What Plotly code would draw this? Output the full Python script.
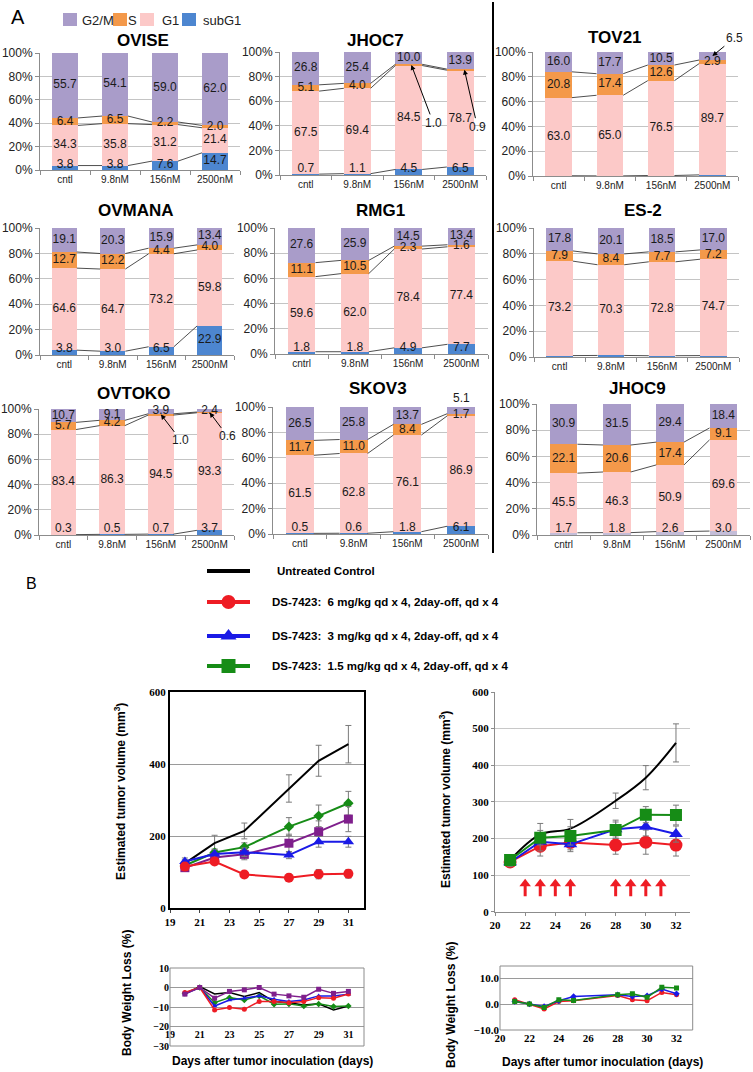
import plotly.graph_objects as go

W, H = 753, 1072
def fx(p): return p / W
def fy(p): return 1 - p / H

# ---------------- Panel A data ----------------
cats_cntl = ["cntl", "9.8nM", "156nM", "2500nM"]
cats_cntrl = ["cntrl", "9.8nM", "156nM", "2500nM"]
phase_names = ["subG1", "G1", "S", "G2/M"]

ovise_subg1 = [3.8, 3.8, 7.6, 14.7]
ovise_g1 = [34.3, 35.8, 31.2, 21.4]
ovise_s = [6.4, 6.5, 2.2, 2.0]
ovise_g2m = [55.7, 54.1, 59.0, 62.0]

jhoc7_subg1 = [0.7, 1.1, 4.5, 6.5]
jhoc7_g1 = [67.5, 69.4, 84.5, 78.7]
jhoc7_s = [5.1, 4.0, 1.0, 0.9]
jhoc7_g2m = [26.8, 25.4, 10.0, 13.9]

tov21_subg1 = [0.2, 0.1, 0.4, 0.9]
tov21_g1 = [63.0, 65.0, 76.5, 89.7]
tov21_s = [20.8, 17.4, 12.6, 2.9]
tov21_g2m = [16.0, 17.7, 10.5, 6.5]

ovmana_subg1 = [3.8, 3.0, 6.5, 22.9]
ovmana_g1 = [64.6, 64.7, 73.2, 59.8]
ovmana_s = [12.7, 12.2, 4.4, 4.0]
ovmana_g2m = [19.1, 20.3, 15.9, 13.4]

rmg1_subg1 = [1.8, 1.8, 4.9, 7.7]
rmg1_g1 = [59.6, 62.0, 78.4, 77.4]
rmg1_s = [11.1, 10.5, 2.3, 1.6]
rmg1_g2m = [27.6, 25.9, 14.5, 13.4]

es2_subg1 = [1.1, 1.2, 1.0, 1.1]
es2_g1 = [73.2, 70.3, 72.8, 74.7]
es2_s = [7.9, 8.4, 7.7, 7.2]
es2_g2m = [17.8, 20.1, 18.5, 17.0]

ovtoko_subg1 = [0.3, 0.5, 0.7, 3.7]
ovtoko_g1 = [83.4, 86.3, 94.5, 93.3]
ovtoko_s = [5.7, 4.2, 1.0, 0.6]
ovtoko_g2m = [10.7, 9.1, 3.9, 2.4]

skov3_subg1 = [0.5, 0.6, 1.8, 6.1]
skov3_g1 = [61.5, 62.8, 76.1, 86.9]
skov3_s = [11.7, 11.0, 8.4, 1.7]
skov3_g2m = [26.5, 25.8, 13.7, 5.1]

jhoc9_subg1 = [1.7, 1.8, 2.6, 3.0]
jhoc9_g1 = [45.5, 46.3, 50.9, 69.6]
jhoc9_s = [22.1, 20.6, 17.4, 9.1]
jhoc9_g2m = [30.9, 31.5, 29.4, 18.4]

# ---------------- Panel B data ----------------
left_days = [20, 22, 24, 27, 29, 31]
left_ctrl = [124, 180, 214, 332, 409, 455]
left_ctrl_err = [10, 22, 22, 38, 43, 52]
left_15 = [118, 154, 169, 226, 256, 291]
left_15_err = [8, 10, 12, 25, 30, 33]
left_purple = [112, 140, 149, 180, 212, 247]
left_purple_err = [8, 12, 15, 25, 30, 35]
left_3 = [129, 150, 155, 147, 184, 184]
left_3_err = [10, 12, 12, 10, 15, 15]
left_6 = [115, 129, 93, 84, 94, 95]
left_6_err = [8, 8, 5, 10, 13, 12]

left_bw_days = [20, 21, 22, 23, 24, 25, 26, 27, 28, 29, 30, 31]
lbw_ctrl = [-3.3, 0.5, -3.3, -2.6, -4.6, -2.6, -7.2, -7.8, -9.0, -8.4, -11.5, -9.5]
lbw_purple = [-3.4, 0.0, -5.5, -2.0, -1.2, 0.0, -3.4, -4.3, -5.0, -0.9, -3.0, -2.0]
lbw_3 = [-3.3, 0.0, -9.5, -6.4, -5.5, -4.3, -6.0, -7.2, -6.4, -4.3, -4.3, -3.4]
lbw_15 = [-2.9, 0.0, -7.8, -5.2, -6.4, -4.3, -8.6, -8.4, -9.5, -8.4, -9.8, -9.5]
lbw_6 = [-2.6, 0.0, -11.5, -10.2, -11.2, -7.2, -7.2, -7.8, -7.2, -5.2, -5.5, -3.3]

right_days = [21, 23, 25, 28, 30, 32]
right_ctrl = [141, 211, 227, 303, 366, 461]
right_ctrl_err = [15, 30, 25, 21, 33, 52]
right_15 = [141, 202, 207, 223, 265, 264]
right_15_err = [12, 20, 25, 22, 22, 27]
right_3 = [135, 191, 184, 225, 232, 212]
right_3_err = [12, 25, 20, 25, 25, 22]
right_6 = [136, 179, 189, 182, 190, 182]
right_6_err = [12, 27, 20, 25, 33, 30]
dose_days = [22, 23, 24, 25, 28, 29, 30, 31]

right_bw_days = [21, 22, 23, 24, 25, 28, 29, 30, 31, 32]
rbw_6 = [1.7, 0.0, -1.9, 1.0, 1.3, 3.3, 1.7, 1.3, 4.5, 3.6]
rbw_3 = [1.0, 0.0, -0.9, 1.3, 2.9, 3.6, 2.9, 3.2, 5.8, 4.0]
rbw_15 = [1.0, 0.0, -1.3, 1.7, 1.4, 3.6, 4.0, 2.6, 6.5, 6.2]

legend_labels = ["Untreated Control",
                 "DS-7423:\u00a0 6 mg/kg qd x 4, 2day-off, qd x 4",
                 "DS-7423:\u00a0 3 mg/kg qd x 4, 2day-off, qd x 4",
                 "DS-7423:\u00a0 1.5 mg/kg qd x 4, 2day-off, qd x 4"]

# ---------------- styles ----------------
C_G2M, C_S, C_G1, C_SUB = "#a99cc9", "#f4994a", "#fcc9c8", "#4d86d0"
SANS = "Liberation Sans"
SERIF = "Liberation Serif"
RED, BLUE, GREEN, PURPLE, BLACK = "#ee1c24", "#1a1ae6", "#168c16", "#7f1f8c", "#000000"
LABEL_FONT = dict(family=SANS, size=12, color="#1a1a1a")

charts = [
    dict(name="OVISE", cats=cats_cntl, d=(ovise_subg1, ovise_g1, ovise_s, ovise_g2m),
         xd=(40, 240), yd=(53, 170), t=(143, 40)),
    dict(name="JHOC7", cats=cats_cntl, d=(jhoc7_subg1, jhoc7_g1, jhoc7_s, jhoc7_g2m),
         xd=(280, 486), yd=(52, 175), t=(375, 40),
         hide={(2, 2), (2, 3)}, arrows=[(2, 2, 0.05, 22, 58), (2, 3, 0.08, 13, 57)]),
    dict(name="TOV21", cats=cats_cntl, d=(tov21_subg1, tov21_g1, tov21_s, tov21_g2m),
         xd=(533, 738), yd=(52, 176), t=(615, 38),
         hide={(0, 0), (0, 1), (0, 2), (0, 3), (3, 3)}, arrows=[(3, 3, 0.0, 22, -18)]),
    dict(name="OVMANA", cats=cats_cntl, d=(ovmana_subg1, ovmana_g1, ovmana_s, ovmana_g2m),
         xd=(40, 234), yd=(228, 355), t=(136, 210)),
    dict(name="RMG1", cats=cats_cntrl, d=(rmg1_subg1, rmg1_g1, rmg1_s, rmg1_g2m),
         xd=(275, 488), yd=(228, 354), t=(380, 210)),
    dict(name="ES-2", cats=cats_cntl, d=(es2_subg1, es2_g1, es2_s, es2_g2m),
         xd=(534, 739), yd=(228, 357), t=(643, 210),
         hide={(0, 0), (0, 1), (0, 2), (0, 3)}),
    dict(name="OVTOKO", cats=cats_cntl, d=(ovtoko_subg1, ovtoko_g1, ovtoko_s, ovtoko_g2m),
         xd=(39, 234), yd=(409, 535), t=(133, 393),
         hide={(2, 2), (2, 3)}, arrows=[(2, 2, 0.0, 20, 26), (2, 3, 0.0, 18, 24)]),
    dict(name="SKOV3", cats=cats_cntl, d=(skov3_subg1, skov3_g1, skov3_s, skov3_g2m),
         xd=(273, 488), yd=(407, 534), t=(378, 388), above={(3, 3)}),
    dict(name="JHOC9", cats=cats_cntrl, d=(jhoc9_subg1, jhoc9_g1, jhoc9_s, jhoc9_g2m),
         xd=(537, 750), yd=(404, 535), t=(637, 388), subcolor="#c4bdd8"),
]

fig = go.Figure()
layout = {}
annotations = []
shapes = []

def note(x, y, text, font, xanchor="center", yanchor="middle", **kw):
    annotations.append(dict(x=fx(x), y=fy(y), xref="paper", yref="paper", text=text, showarrow=False,
                            xanchor=xanchor, yanchor=yanchor, font=font, **kw))

def ax_id(i, k):
    return k if i == 1 else f"{k}{i}"

def lay_id(i, k):
    return f"{k}axis" if i == 1 else f"{k}axis{i}"

BW = 0.52
for ci, ch in enumerate(charts, start=1):
    xa, ya = ax_id(ci, "x"), ax_id(ci, "y")
    xs = list(range(len(ch["cats"])))
    cols = [ch.get("subcolor", C_SUB), C_G1, C_S, C_G2M]
    cum_prev = [0.0] * len(xs)
    tops = []
    for pi, vals in enumerate(ch["d"]):
        fig.add_trace(go.Bar(x=xs, y=vals, width=BW, marker=dict(color=cols[pi], line=dict(width=0)),
                             xaxis=xa, yaxis=ya, showlegend=False, hoverinfo="skip"))
        top = [a + b for a, b in zip(cum_prev, vals)]
        lx, ly, lt = [], [], []
        for i in xs:
            if (pi, i) in ch.get("hide", set()):
                continue
            if (pi, i) in ch.get("above", set()):
                annotations.append(dict(x=i, y=top[i], xref=xa, yref=ya, text=f"{vals[i]:.1f}",
                                        showarrow=False, xanchor="center", yanchor="bottom",
                                        font=LABEL_FONT))
                continue
            mid = cum_prev[i] + vals[i] / 2
            if pi == 0:
                mid = max(mid, 4.6)
            lx.append(i); ly.append(mid); lt.append(f"{vals[i]:.1f}")
        if lx:
            fig.add_trace(go.Scatter(x=lx, y=ly, text=lt, mode="text", xaxis=xa, yaxis=ya,
                                     textfont=LABEL_FONT, showlegend=False, hoverinfo="skip",
                                     cliponaxis=False))
        for (ppi, idx, dx, axp, ayp) in ch.get("arrows", []):
            if ppi == pi:
                annotations.append(dict(x=idx + dx, y=cum_prev[idx] + vals[idx] / 2, xref=xa, yref=ya,
                                        text=f"{vals[idx]:.1f}", showarrow=True, ax=axp, ay=ayp,
                                        arrowhead=2, arrowsize=1, arrowwidth=1, arrowcolor="#000",
                                        font=LABEL_FONT))
        if pi < 3:
            tops.append(top)
        cum_prev = top
    cx, cy = [], []
    for top in tops:
        for i in xs[:-1]:
            cx += [i + BW / 2, i + 1 - BW / 2, None]
            cy += [top[i], top[i + 1], None]
    fig.add_trace(go.Scatter(x=cx, y=cy, mode="lines", line=dict(color="#222", width=0.8),
                             xaxis=xa, yaxis=ya, showlegend=False, hoverinfo="skip"))
    layout[lay_id(ci, "x")] = dict(
        domain=[fx(ch["xd"][0]), fx(ch["xd"][1])], anchor=ya, range=[-0.5, len(xs) - 0.5],
        automargin=False,
        tickmode="array", tickvals=xs, ticktext=ch["cats"], ticks="", showgrid=False, zeroline=False,
        showline=True, linecolor="#8c8c8c", linewidth=1,
        tickfont=dict(family=SANS, size=10, color="#222"),
        minor=dict(tickmode="array", tickvals=[i - 0.5 for i in range(len(xs) + 1)],
                   ticks="outside", ticklen=4, tickcolor="#8c8c8c", showgrid=False))
    layout[lay_id(ci, "y")] = dict(
        domain=[fy(ch["yd"][1]), fy(ch["yd"][0])], anchor=xa, range=[0, 100], automargin=False,
        tickmode="array", tickvals=[0, 20, 40, 60, 80, 100],
        ticktext=["0%", "20%", "40%", "60%", "80%", "100%"],
        ticks="outside", ticklen=4, tickcolor="#8c8c8c", showline=True, linecolor="#8c8c8c",
        showgrid=True, gridcolor="#c4c4c4", gridwidth=1, zeroline=False,
        tickfont=dict(family=SANS, size=12, color="#222"))
    note(ch["t"][0], ch["t"][1], f"<b>{ch['name']}</b>", dict(family=SANS, size=17, color="#000"))

# Panel A legend
leg_items = [("G2/M", C_G2M, 63, 80), ("S", C_S, 113, 126), ("G1", C_G1, 140, 160), ("subG1", C_SUB, 182, 201)]
for lab, col, sx, tx in leg_items:
    shapes.append(dict(type="rect", xref="paper", yref="paper", x0=fx(sx), x1=fx(sx + 14),
                       y0=fy(26), y1=fy(13), fillcolor=col, line=dict(width=0)))
    note(tx, 20, lab, dict(family=SANS, size=13, color="#222"), xanchor="left")
note(18, 17, "A", dict(family=SANS, size=20, color="#000"))
note(32, 583, "B", dict(family=SANS, size=16, color="#000"))
shapes.append(dict(type="line", xref="paper", yref="paper", x0=fx(493), x1=fx(493), y0=fy(2), y1=fy(553),
                   line=dict(color="#000", width=2)))

# ---------------- Panel B ----------------
tickfont_b = dict(family=SERIF, size=11, color="#000", weight="bold")
title_font = dict(family=SANS, size=12, color="#000", weight="bold")
errc = "#7a7a7a"

def err(a):
    return dict(type="data", array=a, visible=True, color=errc, thickness=1, width=3)

# Left tumor chart (axis 10)
LX, LY = "x10", "y10"
left_series = [
    (left_ctrl, left_ctrl_err, BLACK, None, 0),
    (left_15, left_15_err, GREEN, "diamond", 8),
    (left_purple, left_purple_err, PURPLE, "square", 9),
    (left_3, left_3_err, BLUE, "triangle-up", 10),
    (left_6, left_6_err, RED, "circle", 10),
]
for ys, es, col, sym, sz in left_series:
    fig.add_trace(go.Scatter(x=left_days, y=ys, error_y=err(es), xaxis=LX, yaxis=LY,
                             mode="lines+markers" if sym else "lines",
                             line=dict(color=col, width=2),
                             marker=dict(symbol=sym or "circle", size=sz, color=col),
                             showlegend=False, hoverinfo="skip"))
layout["xaxis10"] = dict(domain=[fx(170), fx(364)], anchor=LY, range=[19, 32.05], tickmode="array",
                         tickvals=[19, 21, 23, 25, 27, 29, 31], ticks="outside", ticklen=3, automargin=False,
                         showline=True, mirror=True, linecolor="#000", linewidth=2, showgrid=False,
                         zeroline=False, tickfont=tickfont_b)
layout["yaxis10"] = dict(domain=[fy(908), fy(692)], anchor=LX, range=[0, 600], tickmode="array",
                         tickvals=[0, 200, 400, 600], ticks="", showline=True, mirror=True, automargin=False,
                         linecolor="#000", linewidth=2, showgrid=True, gridcolor="#9a9a9a",
                         zeroline=False, tickfont=tickfont_b)

# Left body weight chart (axis 11)
BX, BY = "x11", "y11"
lbw_series = [(lbw_ctrl, BLACK, None), (lbw_15, GREEN, "diamond"), (lbw_3, BLUE, "triangle-up"),
              (lbw_6, RED, "circle"), (lbw_purple, PURPLE, "square")]
for ys, col, sym in lbw_series:
    fig.add_trace(go.Scatter(x=left_bw_days, y=ys, xaxis=BX, yaxis=BY,
                             mode="lines+markers" if sym else "lines",
                             line=dict(color=col, width=1.5),
                             marker=dict(symbol=sym or "circle", size=5, color=col),
                             showlegend=False, hoverinfo="skip"))
bw_y0, bw_y1, bw_r = 1046, 968, (-30, 10)
pos_m20 = fy(bw_y0) + (-20 - bw_r[0]) / (bw_r[1] - bw_r[0]) * (fy(bw_y1) - fy(bw_y0))
layout["xaxis11"] = dict(domain=[fx(170), fx(364)], anchor="free", position=pos_m20, range=[19, 32.05],
                         tickmode="array", tickvals=[19, 21, 23, 25, 27, 29, 31], ticks="", automargin=False,
                         showline=False, showgrid=False, zeroline=False, tickfont=dict(tickfont_b, size=10))
layout["yaxis11"] = dict(domain=[fy(bw_y0), fy(bw_y1)], anchor=BX, range=list(bw_r), tickmode="array",
                         tickvals=[-30, -20, -10, 0, 10], ticks="", showline=False, automargin=False,
                         showgrid=True, gridcolor="#9a9a9a", zeroline=False, tickfont=dict(tickfont_b, size=10))
shapes.append(dict(type="rect", xref="x11 domain", yref="y11 domain", x0=0, x1=1, y0=0, y1=1,
                   line=dict(color="#8c8c8c", width=1)))

# Right tumor chart (axis 12)
RX, RY = "x12", "y12"
right_series = [
    (right_ctrl, right_ctrl_err, BLACK, None, 0, "spline"),
    (right_6, right_6_err, RED, "circle", 13, "linear"),
    (right_3, right_3_err, BLUE, "triangle-up", 12, "linear"),
    (right_15, right_15_err, GREEN, "square", 12, "linear"),
]
for ys, es, col, sym, sz, shp in right_series:
    fig.add_trace(go.Scatter(x=right_days, y=ys, error_y=err(es), xaxis=RX, yaxis=RY,
                             mode="lines+markers" if sym else "lines",
                             line=dict(color=col, width=2, shape=shp),
                             marker=dict(symbol=sym or "circle", size=sz, color=col),
                             showlegend=False, hoverinfo="skip"))
# dosing arrows
ARROW_LO, ARROW_HI = 42, 72
ax_x, ax_y = [], []
for d in dose_days:
    ax_x += [d, d, None]
    ax_y += [ARROW_LO, ARROW_HI, None]
fig.add_trace(go.Scatter(x=ax_x, y=ax_y, mode="lines", line=dict(color=RED, width=3),
                         xaxis=RX, yaxis=RY, showlegend=False, hoverinfo="skip"))
fig.add_trace(go.Scatter(x=dose_days, y=[ARROW_HI + 4] * len(dose_days), mode="markers",
                         marker=dict(symbol="triangle-up", size=10, color=RED),
                         xaxis=RX, yaxis=RY, showlegend=False, hoverinfo="skip"))
layout["xaxis12"] = dict(domain=[fx(495), fx(690)], anchor=RY, range=[20, 32.93], tickmode="array",
                         tickvals=[20, 22, 24, 26, 28, 30, 32], ticks="outside", ticklen=3, tickcolor="#8c8c8c",
                         showline=True, linecolor="#8c8c8c", showgrid=False, zeroline=False, automargin=False,
                         tickfont=tickfont_b)
layout["yaxis12"] = dict(domain=[fy(911.7), fy(692)], anchor=RX, range=[0, 600], tickmode="array",
                         tickvals=[0, 100, 200, 300, 400, 500, 600], ticks="outside", ticklen=3,
                         tickcolor="#8c8c8c", showline=True, linecolor="#8c8c8c", showgrid=True,
                         gridcolor="#c8c8c8", zeroline=False, tickfont=tickfont_b, automargin=False)

# Right body weight chart (axis 13)
QX, QY = "x13", "y13"
rbw_series = [(rbw_6, RED, "circle"), (rbw_3, BLUE, "diamond"), (rbw_15, GREEN, "square")]
for ys, col, sym in rbw_series:
    fig.add_trace(go.Scatter(x=right_bw_days, y=ys, xaxis=QX, yaxis=QY, mode="lines+markers",
                             line=dict(color=col, width=1.5), marker=dict(symbol=sym, size=5, color=col),
                             showlegend=False, hoverinfo="skip"))
layout["xaxis13"] = dict(domain=[fx(500), fx(692.7)], anchor=QY, range=[20, 33.1], tickmode="array",
                         tickvals=[20, 22, 24, 26, 28, 30, 32], ticks="", showline=False, showgrid=False,
                         zeroline=False, tickfont=tickfont_b, automargin=False)
layout["yaxis13"] = dict(domain=[fy(1030), fy(966)], anchor=QX, range=[-10, 14.7], tickmode="array",
                         tickvals=[-10, 0, 10], tickformat=".1f", ticks="", showline=False, showgrid=True,
                         gridcolor="#9a9a9a", zeroline=False, tickfont=tickfont_b, automargin=False)
shapes.append(dict(type="rect", xref="x13 domain", yref="y13 domain", x0=0, x1=1, y0=0, y1=1,
                   line=dict(color="#8c8c8c", width=1)))

# Panel B legend (axis 14, hidden)
GX, GY = "x14", "y14"
leg_rows_px = [571, 602, 636, 666]
leg_style = [(BLACK, None), (RED, "circle"), (BLUE, "triangle-up"), (GREEN, "square")]
for rpx, (col, sym), lab in zip(leg_rows_px, leg_style, legend_labels):
    yy = (690 - rpx) / 130
    fig.add_trace(go.Scatter(x=[0, 1], y=[yy, yy], mode="lines", line=dict(color=col, width=4),
                             xaxis=GX, yaxis=GY, showlegend=False, hoverinfo="skip"))
    if sym:
        fig.add_trace(go.Scatter(x=[0.5], y=[yy], mode="markers",
                                 marker=dict(symbol=sym, size=14, color=col),
                                 xaxis=GX, yaxis=GY, showlegend=False, hoverinfo="skip"))
    note(275 if sym is None else 270, rpx, f"<b>{lab}</b>", dict(family=SANS, size=11.5, color="#000"),
         xanchor="left")
layout["xaxis14"] = dict(domain=[fx(207), fx(250)], anchor=GY, range=[0, 1], visible=False)
layout["yaxis14"] = dict(domain=[fy(690), fy(560)], anchor=GX, range=[0, 1], visible=False)

# axis titles
vol_title = "<b>Estimated tumor volume (mm<sup>3</sup>)</b>"
bw_title = "<b>Body Weight Loss (%)</b>"
days_title = "<b>Days after tumor inoculation (days)</b>"
note(120, 792, vol_title, title_font, textangle=-90)
note(445, 800, vol_title, title_font, textangle=-90)
note(127, 993, bw_title, title_font, textangle=-90)
note(451, 1005, bw_title, title_font, textangle=-90)
note(272, 1061, days_title, title_font)
note(602, 1062, days_title, title_font)

fig.update_layout(width=W, height=H, autosize=False, margin=dict(l=0, r=0, t=0, b=0, autoexpand=False),
                  paper_bgcolor="white", plot_bgcolor="white", barmode="stack", showlegend=False,
                  annotations=annotations, shapes=shapes, **layout)
fig.write_html("out.html", config={"displayModeBar": False},
               post_script="document.body.style.margin='0';document.body.style.padding='0';")
